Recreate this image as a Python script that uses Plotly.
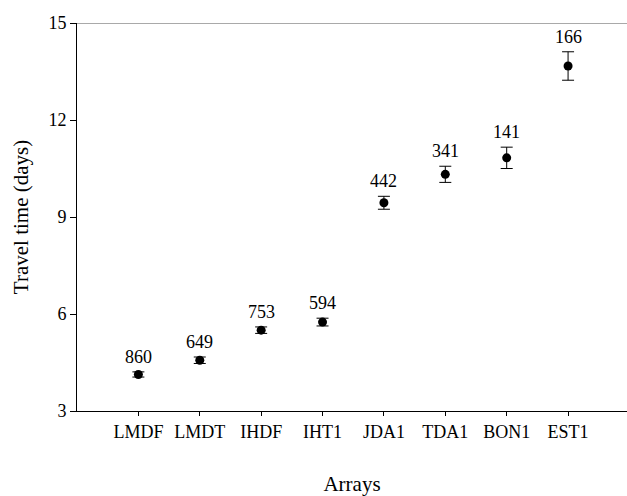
import plotly.graph_objects as go

# Mean travel time per detection array, with its standard error and sample size
arrays = ["LMDF", "LMDT", "IHDF", "IHT1", "JDA1", "TDA1", "BON1", "EST1"]
travel_days = [4.13, 4.57, 5.50, 5.75, 9.44, 10.32, 10.83, 13.67]
std_err = [0.08, 0.10, 0.10, 0.12, 0.20, 0.25, 0.33, 0.44]
n_fish = [860, 649, 753, 594, 442, 341, 141, 166]
y_ticks = [3, 6, 9, 12, 15]

FONT = "Liberation Serif, Times New Roman, serif"

fig = go.Figure()
fig.add_trace(go.Scatter(
    x=arrays,
    y=travel_days,
    mode="markers",
    marker=dict(color="black", size=9),
    error_y=dict(type="data", array=std_err, visible=True,
                 color="black", thickness=1, width=6),
    showlegend=False,
))

# Sample size above each error bar
for a, m, e, n in zip(arrays, travel_days, std_err, n_fish):
    fig.add_annotation(x=a, y=m + e, text=str(n), showarrow=False,
                       yanchor="bottom", yshift=3,
                       font=dict(family=FONT, size=18, color="black"))

# Thin frame line along the top of the plot
fig.add_shape(type="line", xref="paper", yref="y", x0=0, x1=1, y0=15, y1=15,
              line=dict(color="#555555", width=1))

fig.update_layout(
    width=627, height=496,
    margin=dict(l=77, r=0, t=23, b=85),
    paper_bgcolor="white", plot_bgcolor="white",
    font=dict(family=FONT, size=18, color="black"),
    xaxis=dict(
        type="category", range=[-1, 7.96],
        showline=True, linecolor="black", linewidth=1,
        ticks="outside", ticklen=4, tickcolor="black",
        showgrid=False, zeroline=False,
        title=dict(text="Arrays", font=dict(size=21, color="black"), standoff=36),
    ),
    yaxis=dict(
        range=[3, 15], tickvals=y_ticks,
        showline=True, linecolor="black", linewidth=1,
        ticks="outside", ticklen=6, tickcolor="black",
        showgrid=False, zeroline=False,
        title=dict(text="Travel time (days)", font=dict(size=21, color="black"), standoff=14),
    ),
)

fig.write_html("out.html")
